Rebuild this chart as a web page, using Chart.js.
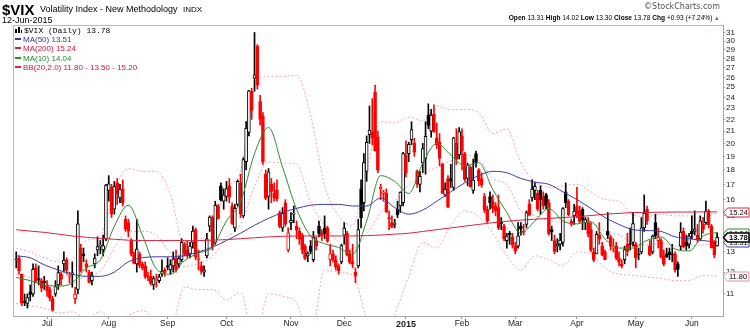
<!DOCTYPE html>
<html>
<head>
<meta charset="utf-8">
<title>$VIX Daily</title>
<script src="https://cdn.jsdelivr.net/npm/chart.js@4.4.1/dist/chart.umd.min.js"></script>
<style>
  body { margin: 0; background: #fff; }
  #wrap { position: relative; width: 750px; height: 330px; overflow: hidden;
          font-family: "Liberation Sans", Arial, sans-serif; color: #000; }
  #chart { position: absolute; left: 0; top: 0; }
  .txt { position: absolute; white-space: nowrap; line-height: 1; }
  #sym  { left: 2px; top: 2.3px; font-size: 15px; font-weight: bold; }
  #name { left: 40px; top: 4.8px; font-size: 9px; }
  #exch { left: 183px; top: 5.5px; font-size: 8px; }
  #date { left: 2px; top: 16px; font-size: 9px; }
  #copy { right: 30px; top: 3px; font-size: 8px; font-family: "DejaVu Sans", sans-serif; color: #555; }
  #quote { right: 31px; top: 13.6px; font-size: 7.5px; transform: scaleX(0.88); transform-origin: right center; }
  #quote b { font-weight: bold; }
  #quote .up { color: #1a9a1a; font-size: 6px; }
  .lg { position: absolute; left: 15px; white-space: nowrap; line-height: 1; font-size: 8px; }
  .lg .sw { display: inline-block; width: 6px; height: 2px; vertical-align: 2px; margin-right: 2px; }
  #lg0 { top: 26.5px; font-family: "Liberation Mono", "DejaVu Sans Mono", monospace; }
  #lg0 .ico { display: inline-block; width: 7px; height: 6px; position: relative; margin-right: 2px; vertical-align: 0; }
  #lg0 .ico i { position: absolute; bottom: 0; width: 2px; background: #000; }
</style>
</head>
<body>
<div id="wrap">
  <canvas id="chart" width="750" height="330"></canvas>
  <div class="txt" id="sym">$VIX</div>
  <div class="txt" id="name">Volatility Index - New Methodology</div>
  <div class="txt" id="exch">INDX</div>
  <div class="txt" id="date">12-Jun-2015</div>
  <div class="txt" id="copy">&copy;StockCharts.com</div>
  <div class="txt" id="quote"><b>Open</b> 13.31 <b>High</b> 14.02 <b>Low</b> 13.30 <b>Close</b> 13.78 <b>Chg</b> +0.93 (+7.24%) <span class="up">&#9650;</span></div>
  <div class="lg" id="lg0"><span class="ico"><i style="left:0;height:4px"></i><i style="left:3px;height:6px"></i><i style="left:6px;height:3px;width:1px"></i></span>$VIX (Daily) 13.78</div>
  <div class="lg" style="top:35.7px;color:#333399"><span class="sw" style="background:#3b3bab"></span>MA(50) 13.51</div>
  <div class="lg" style="top:45.2px;color:#dd1133"><span class="sw" style="background:#e0203a"></span>MA(200) 15.24</div>
  <div class="lg" style="top:54.7px;color:#228822"><span class="sw" style="background:#2e8b2e"></span>MA(10) 14.04</div>
  <div class="lg" style="top:64.2px;color:#dd1133"><span class="sw" style="background:#e0203a"></span>BB(20,2.0) 11.80 - 13.50 - 15.20</div>
</div>
<script>
// trading days: 0 = 16-Jun-2014 ... 250 = 12-Jun-2015
var monthIdx = [11, 33, 54, 75, 98, 117, 139, 159, 178, 200, 221, 241];
var monthLabels = ['Jul', 'Aug', 'Sep', 'Oct', 'Nov', 'Dec', '2015', 'Feb', 'Mar', 'Apr', 'May', 'Jun'];
var priceTicks = [11, 12, 13, 14, 15, 16, 17, 18, 19, 20, 21, 22, 23, 24, 25, 26, 27, 28, 29, 30, 31];

var opens = [
  12.6,12.7,11.9,10.7,10.6,11.1,11.0,12.2,11.7,11.6,
  11.5,11.4,11.2,10.8,11.0,11.4,11.9,12.4,12.6,11.8,
  11.9,10.8,11.2,13.2,12.9,12.4,12.0,11.6,12.4,13.1,
  13.3,13.1,13.7,16.6,16.8,15.4,17.1,16.1,16.7,14.8,
  14.6,13.6,12.9,12.4,12.9,12.4,12.3,11.8,11.8,11.4,
  11.6,11.6,11.9,12.1,12.3,12.1,12.3,12.7,12.4,12.6,
  13.4,13.1,12.9,13.5,14.2,12.6,12.3,12.0,12.8,14.4,
  14.9,13.5,15.6,16.9,15.9,16.2,16.9,15.6,14.3,15.7,
  17.1,15.0,18.6,20.9,24.6,25.9,29.4,23.6,22.3,17.7,
  16.2,17.0,16.4,16.6,15.2,14.3,15.8,13.1,14.6,15.1,
  14.4,14.1,13.9,13.3,12.8,13.3,12.6,13.6,14.4,14.0,
  14.3,14.3,12.6,12.9,12.6,12.3,12.5,13.9,14.0,12.9,
  12.5,12.0,12.3,16.7,15.8,17.9,20.7,20.9,24.5,20.5,
  16.7,16.4,16.4,14.9,14.6,14.5,15.4,15.6,15.8,19.1,
  19.2,20.3,20.0,17.9,17.0,18.5,18.8,22.4,21.0,22.5,
  20.4,20.1,18.4,16.3,17.4,17.4,16.8,20.0,19.1,20.6,
  19.2,17.4,18.2,16.6,19.2,18.0,17.4,16.2,15.4,16.2,
  15.9,15.6,15.5,14.6,14.4,13.6,14.0,13.8,13.3,13.3,
  14.4,14.1,14.5,15.7,16.1,16.6,16.4,16.6,16.2,16.3,
  15.8,14.2,13.6,13.3,13.4,13.5,16.5,15.9,14.7,15.0,
  15.6,15.3,15.4,14.6,14.6,14.2,13.0,12.9,13.9,13.3,
  13.0,14.1,13.8,13.2,13.3,12.7,12.4,12.6,13.4,13.4,
  13.5,13.4,12.9,13.0,14.3,15.4,13.3,13.0,14.6,13.6,
  13.6,12.8,12.9,13.0,12.9,12.9,12.4,13.3,14.1,13.5,
  13.4,14.1,14.1,13.9,13.7,14.5,14.6,15.3,14.4,13.5,
  13.31
];
var highs = [
  13.0,12.8,11.9,11.0,11.0,11.4,12.4,12.4,12.3,11.7,
  11.8,11.6,11.3,10.9,11.6,12.3,12.0,13.0,12.7,12.0,
  12.5,11.3,15.3,13.4,13.2,12.6,12.1,12.0,12.9,13.8,
  13.6,13.9,17.0,17.6,17.0,17.2,17.4,17.0,17.3,15.0,
  14.8,13.7,13.0,14.8,13.0,12.5,12.5,12.0,12.1,11.8,
  11.9,11.9,12.6,12.2,12.7,12.6,13.0,13.1,12.8,13.7,
  13.5,13.6,13.5,14.4,14.3,13.1,12.5,12.3,14.0,15.0,
  15.0,15.9,15.7,17.1,16.7,17.2,17.4,15.8,15.7,17.3,
  17.7,18.9,21.8,24.7,24.9,31.06,29.6,24.2,22.6,18.0,
  18.1,17.4,17.1,17.3,15.3,15.5,16.0,14.3,15.2,15.6,
  14.7,14.3,14.0,13.4,13.0,13.6,14.1,13.8,14.7,14.2,
  15.0,14.4,13.4,13.1,12.8,12.4,13.4,14.6,14.1,13.1,
  13.4,12.2,14.8,17.3,19.2,20.6,23.2,23.9,25.2,21.0,
  17.0,16.6,16.7,15.3,15.0,14.8,15.9,16.5,19.3,20.2,
  20.1,21.8,20.4,18.0,17.9,20.0,21.8,23.4,22.9,23.3,
  21.7,20.8,18.5,17.1,17.6,18.4,20.5,21.2,21.3,21.2,
  19.3,18.5,18.3,18.8,19.4,18.1,17.8,16.4,15.6,16.5,
  16.3,15.8,16.3,14.9,14.5,14.0,14.1,14.0,13.5,14.6,
  14.6,14.5,15.3,16.0,17.3,17.1,16.6,16.9,16.5,16.4,
  16.0,14.4,13.9,13.7,14.0,15.5,17.1,16.0,14.8,15.7,
  16.8,15.6,15.5,14.9,14.9,14.6,13.2,14.1,14.6,13.5,
  13.1,15.2,13.9,13.7,13.5,13.0,12.6,13.3,14.0,14.3,
  15.2,13.5,13.2,14.9,16.3,15.6,13.6,13.9,15.1,14.3,
  13.7,13.1,13.2,13.2,13.4,13.0,12.5,14.6,14.3,13.9,
  14.0,15.0,15.3,14.5,15.0,14.9,15.9,15.4,14.5,13.6,
  14.02
];
var lows = [
  12.2,11.9,10.5,10.5,10.4,10.7,10.9,11.5,11.4,11.1,
  11.2,10.9,10.7,10.28,10.9,11.2,11.4,12.0,11.9,11.5,
  11.3,10.6,11.0,12.0,12.5,12.0,11.5,11.4,12.2,12.8,
  12.9,12.8,13.6,15.9,14.9,15.1,15.7,15.8,15.6,14.1,
  13.8,12.8,12.4,12.0,12.2,12.1,11.7,11.6,11.4,11.2,
  11.3,11.5,11.8,11.8,12.1,11.9,12.0,12.0,12.2,12.5,
  12.8,12.7,12.7,13.2,12.6,12.1,11.9,11.8,12.7,14.1,
  13.1,13.4,14.8,15.9,15.4,15.9,15.8,14.5,14.1,15.6,
  14.9,14.9,18.0,20.6,22.0,24.6,24.8,21.5,18.4,16.0,
  15.4,15.8,15.9,15.9,14.3,14.1,14.4,13.0,14.2,14.6,
  13.7,13.4,12.9,12.6,12.5,12.9,12.5,13.1,13.8,13.6,
  13.7,13.5,12.3,12.5,12.1,11.9,12.4,13.4,12.8,12.4,
  12.2,11.5,12.2,14.3,15.3,17.2,20.0,19.9,19.4,17.8,
  16.0,15.9,15.2,14.2,14.3,14.3,14.9,15.2,15.6,17.5,
  18.6,19.9,19.0,16.8,16.5,17.8,17.7,21.2,20.5,20.9,
  19.6,18.3,16.4,16.2,15.5,16.8,16.6,18.4,18.8,18.0,
  17.2,16.9,16.8,16.4,18.2,16.9,16.8,15.2,14.6,15.4,
  15.2,15.0,14.2,14.2,13.6,13.2,13.4,13.2,12.9,13.2,
  13.9,13.9,14.3,15.0,15.9,16.0,15.3,15.1,15.4,15.4,
  13.9,13.6,12.9,13.0,13.1,13.3,15.5,15.0,14.4,14.5,
  14.9,14.6,14.2,14.2,13.8,13.0,12.5,12.9,13.4,12.8,
  12.6,13.7,13.1,13.0,12.6,12.3,12.2,12.4,12.8,13.1,
  13.3,12.2,12.6,12.9,14.1,14.5,12.8,12.9,13.7,13.2,
  12.7,12.3,12.7,12.6,12.5,12.0,11.8,13.1,13.2,13.1,
  13.2,13.7,13.9,13.5,13.6,14.0,14.5,14.3,13.2,12.7,
  13.30
];
var closes = [
  12.65,12.06,10.61,10.62,10.85,10.98,12.13,11.59,11.63,11.26,
  11.57,11.15,10.82,10.32,11.33,11.98,11.65,12.59,12.08,11.82,
  11.96,11.00,14.54,12.06,12.81,12.24,11.52,11.84,12.69,13.28,
  13.33,13.33,16.95,17.03,15.12,16.87,16.37,16.66,15.77,14.23,
  14.13,12.90,12.42,13.15,12.32,12.21,11.78,11.76,11.47,11.70,
  11.63,11.78,12.05,11.98,12.25,12.36,12.64,12.09,12.66,13.50,
  12.88,12.80,13.31,14.12,12.73,12.65,12.03,12.11,13.69,14.93,
  13.27,15.64,14.85,15.98,16.31,16.71,16.16,14.55,15.46,17.20,
  15.11,18.76,21.24,24.64,22.79,26.25,25.20,21.99,18.57,16.08,
  17.87,16.53,16.11,16.04,14.39,15.15,14.52,14.03,14.73,15.10,
  14.17,13.67,13.12,12.67,12.92,13.02,13.79,13.31,13.99,13.86,
  13.96,13.58,12.90,12.62,12.25,12.07,13.33,14.29,12.85,12.47,
  12.38,11.82,14.21,14.89,18.53,20.08,21.08,20.42,19.44,17.98,
  16.81,16.49,15.25,14.80,14.37,14.50,15.06,16.49,19.20,17.79,
  19.92,21.12,19.31,17.01,17.55,19.60,20.56,21.48,22.39,20.95,
  19.89,18.85,16.40,16.66,15.52,17.22,20.44,18.76,20.97,19.43,
  17.33,18.33,16.85,17.29,18.55,17.23,16.96,15.34,14.69,15.80,
  15.45,15.29,14.30,14.56,13.69,13.84,13.91,13.34,13.04,13.86,
  14.23,14.04,15.20,15.06,16.69,16.87,15.42,16.00,15.61,15.66,
  13.97,14.07,13.02,13.41,13.62,15.44,15.80,15.07,14.51,15.29,
  15.11,14.67,14.74,14.78,13.98,13.09,12.58,13.94,13.67,12.84,
  12.60,13.89,13.30,13.25,12.71,12.48,12.29,13.12,13.03,13.39,
  14.55,12.70,12.85,14.31,15.15,14.71,12.86,13.85,13.86,13.76,
  12.74,12.38,12.73,12.85,12.85,12.11,12.13,14.06,13.27,13.31,
  13.84,13.97,14.24,13.66,14.71,14.21,15.29,14.47,13.22,12.85,
  13.78
];

// overlay lines, read every 5th trading day
var lineIdx = [
  0,5,10,15,20,25,30,35,40,45,50,55,60,65,70,75,80,85,90,95,100,105,110,115,120,
  125,130,135,140,145,150,155,160,165,170,175,180,185,190,195,200,205,210,215,220,
  225,230,235,240,245,250
];
var ma10 = [
  11.75,11.6,11.4,11.35,11.5,12.2,12.6,14.4,15.65,13.9,
  12.15,11.9,12.55,12.94,13.25,14.7,15.85,19.2,21.3,18.2,
  15.4,13.85,13.43,13.23,12.87,14.7,17.6,17.2,16.4,18.5,
  20.0,19.1,18.3,18.52,16.65,15.2,14.0,14.7,15.45,14.7,
  14.53,14.65,13.69,13.2,13.2,13.61,13.8,13.15,13.05,13.85,
  14.04
];
var ma50 = [
  12.8,12.7,12.35,12.1,11.9,11.8,11.8,12.0,12.5,12.7,
  12.75,12.75,12.8,13.0,13.25,13.6,14.0,14.45,14.85,15.2,
  15.45,15.65,15.7,15.7,15.6,15.6,16.1,15.5,15.1,15.35,
  15.9,16.5,17.1,17.6,17.9,17.8,17.4,17.15,17.0,16.5,
  16.0,15.45,14.9,14.5,14.2,14.15,14.1,13.8,13.7,13.6,
  13.51
];
var ma200 = [
  14.2,14.12,14.05,13.95,13.85,13.78,13.72,13.67,13.62,13.6,
  13.6,13.6,13.6,13.6,13.62,13.65,13.7,13.75,13.8,13.83,
  13.85,13.85,13.85,13.85,13.85,13.87,13.9,13.95,14.0,14.1,
  14.2,14.3,14.4,14.5,14.6,14.68,14.75,14.8,14.85,14.9,
  14.95,15.02,15.1,15.15,15.2,15.21,15.22,15.23,15.23,15.24,
  15.24
];
var bbUpper = [
  13.2,13.0,12.7,12.5,12.65,13.6,13.85,16.6,18.1,17.9,
  17.9,16.35,13.3,13.6,14.4,16.75,17.9,24.9,26.1,26.1,
  26.2,22.4,16.9,15.0,14.45,17.96,21.8,21.7,22.2,21.9,
  23.2,22.85,22.9,22.6,20.8,21.2,18.5,17.2,16.8,16.9,
  17.0,16.5,16.0,15.9,15.05,14.97,15.1,15.0,15.0,14.9,
  15.2
];
var bbMiddle = [
  11.9,11.75,11.5,11.35,11.45,11.83,12.05,13.24,14.09,14.11,
  13.89,12.95,12.28,12.41,12.79,13.75,14.48,16.88,18.57,18.5,
  18.41,15.8,14.46,13.52,13.15,13.96,15.2,15.9,16.96,17.7,
  18.19,18.65,19.08,18.76,17.41,16.96,15.33,15.0,14.73,14.62,
  14.99,14.66,14.11,13.92,13.45,13.37,13.44,13.3,13.32,13.37,
  13.5
];
var bbLower = [
  10.6,10.5,10.4,10.2,10.25,10.0,10.25,9.8,10.1,10.3,
  9.9,9.55,11.3,11.2,11.2,10.75,11.05,9.1,11.0,10.9,
  10.6,9.2,12.1,12.0,11.85,9.96,8.6,10.1,11.8,13.5,
  13.2,14.45,15.3,14.96,14.0,12.8,12.1,12.8,12.6,12.3,
  13.0,12.9,12.2,11.9,11.85,11.77,11.7,11.6,11.6,11.85,
  11.8
];

// last values shown as tags on the price axis
var tagValues = [15.24, 14.04, 13.51, 11.80, 13.78];
var tagColors = ['#e0203a', '#2e8b2e', '#3b3bab', '#f08aa0', '#000000'];

var RED = '#ff0000', BLACK = '#000000';

function pts(vals) {
  return vals.map(function (v, k) { return { x: lineIdx[k], y: v }; });
}

// black when up from previous close, red when down; hollow when close >= open
var candleCol = closes.map(function (c, i) {
  var prev = i > 0 ? closes[i - 1] : opens[0];
  return c < prev ? RED : BLACK;
});
var bodyFill = closes.map(function (c, i) {
  return c >= opens[i] ? '#ffffff' : candleCol[i];
});

var wicks = closes.map(function (c, i) { return { x: i, y: [lows[i], highs[i]] }; });
var bodies = closes.map(function (c, i) { return { x: i, y: [opens[i], c] }; });

function overlay(label, vals, color, dashed) {
  return {
    type: 'line', label: label, data: pts(vals),
    borderColor: color, borderWidth: 1, borderDash: dashed ? [2, 2] : [],
    pointRadius: 0, cubicInterpolationMode: 'monotone', order: dashed ? 4 : 0
  };
}

var framePlugin = {
  id: 'frame',
  beforeDatasetsDraw: function (chart) {
    var a = chart.chartArea, c = chart.ctx;
    c.save();
    c.strokeStyle = '#b8b8b8';
    c.lineWidth = 1;
    c.beginPath();
    c.moveTo(a.left + 0.5, a.bottom);
    c.lineTo(a.left + 0.5, a.top + 0.5);
    c.lineTo(a.right, a.top + 0.5);
    c.stroke();
    c.restore();
  }
};

var tagPlugin = {
  id: 'tags',
  afterDraw: function (chart) {
    var c = chart.ctx, y = chart.scales.y, x0 = chart.chartArea.right;
    c.save();
    tagValues.forEach(function (v, k) {
      var py = Math.round(y.getPixelForValue(v)) + 0.5;
      var last = k === tagValues.length - 1;
      c.beginPath();
      c.moveTo(x0 + 0.5, py);
      c.lineTo(x0 + 4.5, py - 4.5);
      c.lineTo(749, py - 4.5);
      c.lineTo(749, py + 4.5);
      c.lineTo(x0 + 4.5, py + 4.5);
      c.closePath();
      c.fillStyle = '#fff';
      c.fill();
      c.strokeStyle = tagColors[k];
      c.lineWidth = last ? 1.5 : 1;
      c.stroke();
      c.fillStyle = '#000';
      c.font = (last ? 'bold ' : '') + '7.5px "Liberation Sans", Arial, sans-serif';
      c.textBaseline = 'middle';
      c.fillText(v.toFixed(2), x0 + 6, py + 0.5);
    });
    c.restore();
  }
};

new Chart(document.getElementById('chart').getContext('2d'), {
  data: {
    datasets: [
      overlay('BB upper', bbUpper, '#f5a3b5', true),
      overlay('BB middle', bbMiddle, '#f5a3b5', true),
      overlay('BB lower', bbLower, '#f5a3b5', true),
      {
        type: 'bar', label: 'range', data: wicks, grouped: false,
        barThickness: 1, backgroundColor: candleCol, order: 3
      },
      {
        type: 'bar', label: 'body', data: bodies, grouped: false,
        barThickness: 3, minBarLength: 1, backgroundColor: bodyFill,
        borderColor: candleCol, borderWidth: 1, borderSkipped: false, order: 2
      },
      overlay('MA(200)', ma200, '#e0203a', false),
      overlay('MA(50)', ma50, '#3b3bab', false),
      overlay('MA(10)', ma10, '#2e8b2e', false)
    ]
  },
  options: {
    responsive: false,
    animation: false,
    events: [],
    layout: { padding: { left: 13, top: 25, right: 0, bottom: 0 } },
    plugins: { legend: { display: false }, tooltip: { enabled: false } },
    scales: {
      x: {
        type: 'linear', min: -1.15, max: 252.1, offset: false,
        afterFit: function (s) { s.height = 14; },
        afterBuildTicks: function (s) {
          s.ticks = monthIdx.map(function (v) { return { value: v }; });
        },
        ticks: {
          autoSkip: false, maxRotation: 0, padding: 0, color: '#222',
          font: function (c) {
            var bold = c.tick && c.tick.value === 139;
            return { family: '"Liberation Sans", Arial, sans-serif', size: bold ? 9 : 8.5, weight: bold ? 'bold' : 'normal' };
          },
          callback: function (v) {
            var k = monthIdx.indexOf(v);
            return k >= 0 ? monthLabels[k] : '';
          }
        },
        grid: { drawOnChartArea: false, tickLength: 3, color: '#999', offset: false },
        border: { color: '#aaa' }
      },
      y: {
        type: 'logarithmic', position: 'right', min: 10.08, max: 32,
        afterFit: function (s) { s.width = 27; },
        afterBuildTicks: function (s) {
          s.ticks = priceTicks.map(function (v) { return { value: v }; });
        },
        ticks: {
          autoSkip: false, padding: 1, color: '#222',
          font: { family: '"Liberation Sans", Arial, sans-serif', size: 8 },
          callback: function (v) { return String(v); }
        },
        grid: { drawOnChartArea: false, tickLength: 2, color: '#999' },
        border: { color: '#aaa' }
      }
    }
  },
  plugins: [framePlugin, tagPlugin]
});
</script>
</body>
</html>
